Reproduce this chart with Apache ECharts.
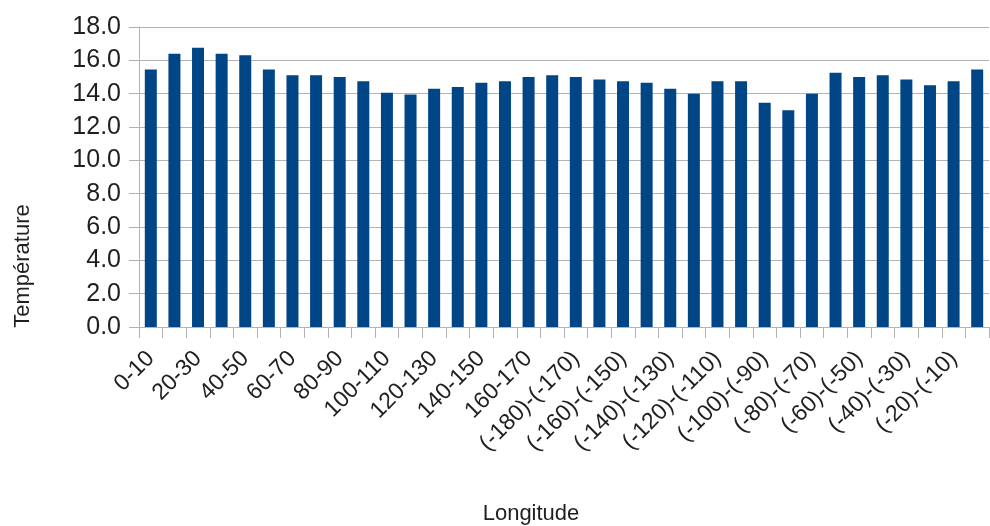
<!DOCTYPE html>
<html>
<head>
<meta charset="utf-8">
<script src="https://cdn.jsdelivr.net/npm/echarts@6/dist/echarts.min.js"></script>
<style>
  html, body { margin: 0; padding: 0; background: #ffffff; }
  #chart { width: 990px; height: 526px; }
</style>
</head>
<body>
<div id="chart"></div>
<script>
// Longitude bands: 0..180 east, then -180..0 west
const categories = [
  '0-10', '10-20', '20-30', '30-40', '40-50', '50-60', '60-70', '70-80', '80-90',
  '90-100', '100-110', '110-120', '120-130', '130-140', '140-150', '150-160', '160-170', '170-180',
  '(-180)-(-170)', '(-170)-(-160)', '(-160)-(-150)', '(-150)-(-140)', '(-140)-(-130)', '(-130)-(-120)',
  '(-120)-(-110)', '(-110)-(-100)', '(-100)-(-90)', '(-90)-(-80)', '(-80)-(-70)', '(-70)-(-60)',
  '(-60)-(-50)', '(-50)-(-40)', '(-40)-(-30)', '(-30)-(-20)', '(-20)-(-10)', '(-10)-0'
];

// Mean temperature per band
const temperatures = [
  15.45, 16.4, 16.75, 16.4, 16.3, 15.45, 15.1, 15.1, 15.0,
  14.75, 14.05, 13.95, 14.3, 14.4, 14.65, 14.75, 15.0, 15.1,
  15.0, 14.85, 14.75, 14.65, 14.3, 14.0, 14.75, 14.75, 13.45,
  13.0, 14.0, 15.25, 15.0, 15.1, 14.85, 14.5, 14.75, 15.45
];

const yAxisTitle = 'Température';
const xAxisTitle = 'Longitude';

const textColor = '#1f1f1f';
const lineColor = '#b3b3b3';
const font = '"Liberation Sans", Arial, sans-serif';

const chart = echarts.init(document.getElementById('chart'), null, { renderer: 'canvas' });

chart.setOption({
  animation: false,
  backgroundColor: '#ffffff',
  grid: { left: 139, right: 1, top: 27, bottom: 199, containLabel: false },
  xAxis: {
    type: 'category',
    data: categories,
    boundaryGap: true,
    axisLine: { show: true, lineStyle: { color: lineColor, width: 1 } },
    axisTick: { show: true, interval: 0, length: 11, lineStyle: { color: lineColor } },
    axisLabel: {
      interval: 1,
      rotate: 45,
      margin: 28,
      color: textColor,
      fontFamily: font,
      fontSize: 23
    },
    splitLine: { show: false }
  },
  yAxis: {
    type: 'value',
    min: 0,
    max: 18,
    interval: 2,
    axisLine: { show: true, lineStyle: { color: lineColor, width: 1 } },
    axisTick: { show: true, length: 10, lineStyle: { color: lineColor } },
    axisLabel: {
      margin: 18,
      color: textColor,
      fontFamily: font,
      fontSize: 25,
      formatter: v => v.toFixed(1)
    },
    splitLine: { show: true, lineStyle: { color: lineColor, width: 1 } }
  },
  series: [{
    type: 'bar',
    data: temperatures,
    barWidth: 12,
    itemStyle: { color: '#004586' }
  }],
  graphic: [
    {
      type: 'text',
      x: 23,
      y: 266,
      rotation: Math.PI / 2,
      style: {
        text: yAxisTitle,
        font: '22px ' + font,
        fill: textColor,
        align: 'center',
        verticalAlign: 'middle'
      }
    },
    {
      type: 'text',
      x: 531,
      y: 514,
      style: {
        text: xAxisTitle,
        font: '22px ' + font,
        fill: textColor,
        align: 'center',
        verticalAlign: 'middle'
      }
    }
  ]
});
</script>
</body>
</html>
